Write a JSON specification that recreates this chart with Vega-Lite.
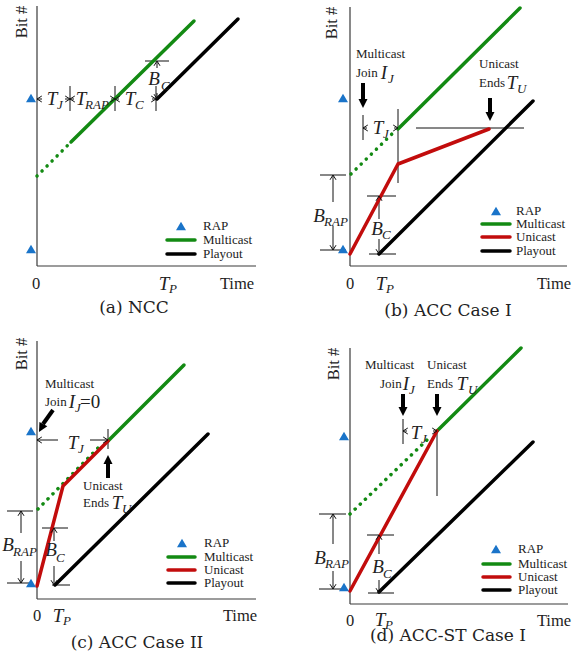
{
"$schema": "https://vega.github.io/schema/vega-lite/v6.json",
"background": "white",
"padding": {"left": 2, "top": 5, "right": 2, "bottom": 2},
"bounds": "flush",
"columns": 2,
"spacing": {"row": 75, "column": 93},
"data": {"values": [
{"p":"a","k":"axis","t":0,"b":0,"t2":0,"b2":260},
{"p":"a","k":"axis","t":0,"b":0,"t2":219,"b2":0},
{"p":"a","k":"rap","t":-6,"b":168},
{"p":"a","k":"rap","t":-6,"b":17},
{"p":"a","k":"rap","t":144,"b":40},
{"p":"a","k":"dot","g":"a0","t":0,"b":90},
{"p":"a","k":"dot","g":"a0","t":32,"b":122},
{"p":"a","k":"line","s":"Multicast","g":"a1","t":34,"b":124},
{"p":"a","k":"line","s":"Multicast","g":"a1","t":157,"b":245},
{"p":"a","k":"line","s":"Playout","g":"a2","t":120,"b":167},
{"p":"a","k":"line","s":"Playout","g":"a2","t":201,"b":247},
{"p":"a","k":"line","s":"Multicast","g":"a3","t":130,"b":26},
{"p":"a","k":"line","s":"Multicast","g":"a3","t":158,"b":26},
{"p":"a","k":"line","s":"Playout","g":"a4","t":130,"b":12},
{"p":"a","k":"line","s":"Playout","g":"a4","t":158,"b":12},
{"p":"a","k":"g","t":33,"b":155,"t2":33,"b2":180},
{"p":"a","k":"g","t":78,"b":155,"t2":78,"b2":180},
{"p":"a","k":"g","t":119,"b":155,"t2":119,"b2":180},
{"p":"a","k":"g","t":0,"b":167,"t2":5,"b2":167},
{"p":"a","k":"g","t":28,"b":167,"t2":33,"b2":167},
{"p":"a","k":"g","t":33,"b":167,"t2":37,"b2":167},
{"p":"a","k":"g","t":74,"b":167,"t2":78,"b2":167},
{"p":"a","k":"g","t":78,"b":167,"t2":82,"b2":167},
{"p":"a","k":"g","t":115,"b":167,"t2":119,"b2":167},
{"p":"a","k":"gg","t":108,"b":205,"t2":132,"b2":205},
{"p":"a","k":"g","t":120,"b":205,"t2":120,"b2":198},
{"p":"a","k":"g","t":120,"b":167,"t2":120,"b2":173},
{"p":"a","k":"chev","d":"hl","t":0,"b":167},
{"p":"a","k":"chev","d":"hl","t":33,"b":167},
{"p":"a","k":"chev","d":"hl","t":78,"b":167},
{"p":"a","k":"chev","d":"hr","t":33,"b":167},
{"p":"a","k":"chev","d":"hr","t":78,"b":167},
{"p":"a","k":"chev","d":"hr","t":119,"b":167},
{"p":"a","k":"chev","d":"hu","t":120,"b":205},
{"p":"a","k":"chev","d":"hd","t":120,"b":167},
{"p":"a","k":"math","txt":"T","t":15,"b":167},
{"p":"a","k":"math","txt":"T","t":44,"b":167},
{"p":"a","k":"math","txt":"T","t":93,"b":167},
{"p":"a","k":"math","txt":"B","t":117,"b":187},
{"p":"a","k":"math","txt":"T","t":127,"b":-18},
{"p":"a","k":"sub","txt":"J","t":20,"b":161},
{"p":"a","k":"sub","txt":"RAP","t":48,"b":161},
{"p":"a","k":"sub","txt":"C","t":98,"b":161},
{"p":"a","k":"sub","txt":"C","t":124,"b":180},
{"p":"a","k":"sub","txt":"P","t":132,"b":-23},
{"p":"a","k":"num","txt":"0","t":-1,"b":-18},
{"p":"a","k":"num","txt":"Time","t":200,"b":-18},
{"p":"a","k":"cap","txt":"(a) NCC","t":97,"b":-42},
{"p":"a","k":"ylab","txt":"Bit #","t":-15,"b":244},
{"p":"a","k":"word","txt":"RAP","t":166,"b":40},
{"p":"a","k":"word","txt":"Multicast","t":166,"b":26},
{"p":"a","k":"word","txt":"Playout","t":166,"b":12},

{"p":"b","k":"axis","t":0,"b":0,"t2":0,"b2":259},
{"p":"b","k":"axis","t":0,"b":0,"t2":217,"b2":0},
{"p":"b","k":"rap","t":-7,"b":168},
{"p":"b","k":"rap","t":-7,"b":17},
{"p":"b","k":"rap","t":146,"b":55},
{"p":"b","k":"dot","g":"b0","t":1,"b":92},
{"p":"b","k":"dot","g":"b0","t":45,"b":135},
{"p":"b","k":"line","s":"Multicast","g":"b1","t":48,"b":137},
{"p":"b","k":"line","s":"Multicast","g":"b1","t":170,"b":258},
{"p":"b","k":"line","s":"Unicast","g":"b2","t":0,"b":12},
{"p":"b","k":"line","s":"Unicast","g":"b2","t":48,"b":102},
{"p":"b","k":"line","s":"Unicast","g":"b2","t":139,"b":137},
{"p":"b","k":"line","s":"Playout","g":"b3","t":29,"b":12},
{"p":"b","k":"line","s":"Playout","g":"b3","t":183,"b":165},
{"p":"b","k":"line","s":"Multicast","g":"b4","t":132,"b":42},
{"p":"b","k":"line","s":"Multicast","g":"b4","t":160,"b":42},
{"p":"b","k":"line","s":"Unicast","g":"b5","t":132,"b":29},
{"p":"b","k":"line","s":"Unicast","g":"b5","t":160,"b":29},
{"p":"b","k":"line","s":"Playout","g":"b6","t":132,"b":15},
{"p":"b","k":"line","s":"Playout","g":"b6","t":160,"b":15},
{"p":"b","k":"g","t":48,"b":83,"t2":48,"b2":157},
{"p":"b","k":"g","t":13,"b":126,"t2":13,"b2":151},
{"p":"b","k":"g","t":66,"b":138,"t2":174,"b2":138},
{"p":"b","k":"g","t":13,"b":138,"t2":17,"b2":138},
{"p":"b","k":"g","t":44,"b":138,"t2":48,"b2":138},
{"p":"b","k":"g","t":-30,"b":91,"t2":-4,"b2":91},
{"p":"b","k":"g","t":-30,"b":16,"t2":-4,"b2":16},
{"p":"b","k":"g","t":-17,"b":91,"t2":-17,"b2":64},
{"p":"b","k":"g","t":-17,"b":16,"t2":-17,"b2":40},
{"p":"b","k":"g","t":17,"b":70,"t2":46,"b2":70},
{"p":"b","k":"gg","t":19,"b":12,"t2":46,"b2":12},
{"p":"b","k":"g","t":29,"b":70,"t2":29,"b2":47},
{"p":"b","k":"g","t":29,"b":12,"t2":29,"b2":27},
{"p":"b","k":"chev","d":"hl","t":13,"b":138},
{"p":"b","k":"chev","d":"hr","t":48,"b":138},
{"p":"b","k":"chev","d":"hu","t":-17,"b":91},
{"p":"b","k":"chev","d":"hd","t":-17,"b":16},
{"p":"b","k":"chev","d":"hu","t":29,"b":70},
{"p":"b","k":"chev","d":"hd","t":29,"b":12},
{"p":"b","k":"bs","t":13,"b":183,"t2":13,"b2":165},
{"p":"b","k":"bs","t":140,"b":168,"t2":140,"b2":152},
{"p":"b","k":"head","d":"ad","t":13,"b":158},
{"p":"b","k":"head","d":"ad","t":140,"b":145},
{"p":"b","k":"word","txt":"Multicast","t":6,"b":212},
{"p":"b","k":"word","txt":"Join","t":6,"b":193},
{"p":"b","k":"word","txt":"Unicast","t":129,"b":202},
{"p":"b","k":"word","txt":"Ends","t":129,"b":183},
{"p":"b","k":"word","txt":"RAP","t":166,"b":55},
{"p":"b","k":"word","txt":"Multicast","t":166,"b":42},
{"p":"b","k":"word","txt":"Unicast","t":166,"b":29},
{"p":"b","k":"word","txt":"Playout","t":166,"b":15},
{"p":"b","k":"math","txt":"I","t":34,"b":193},
{"p":"b","k":"math","txt":"T","t":162,"b":183},
{"p":"b","k":"math","txt":"T","t":28,"b":138},
{"p":"b","k":"math","txt":"B","t":-31,"b":50},
{"p":"b","k":"math","txt":"B","t":27,"b":37},
{"p":"b","k":"math","txt":"T","t":31,"b":-18},
{"p":"b","k":"sub","txt":"J","t":38,"b":187},
{"p":"b","k":"sub","txt":"U","t":167,"b":177},
{"p":"b","k":"sub","txt":"J","t":33,"b":132},
{"p":"b","k":"sub","txt":"RAP","t":-26,"b":44},
{"p":"b","k":"sub","txt":"C","t":32,"b":31},
{"p":"b","k":"sub","txt":"P","t":36,"b":-23},
{"p":"b","k":"num","txt":"0","t":0,"b":-18},
{"p":"b","k":"num","txt":"Time","t":204,"b":-18},
{"p":"b","k":"cap","txt":"(b) ACC Case I","t":98,"b":-45},
{"p":"b","k":"ylab","txt":"Bit #","t":-18,"b":243},

{"p":"c","k":"axis","t":0,"b":0,"t2":0,"b2":258},
{"p":"c","k":"axis","t":0,"b":0,"t2":219,"b2":0},
{"p":"c","k":"rap","t":-6,"b":168},
{"p":"c","k":"rap","t":-6,"b":16},
{"p":"c","k":"rap","t":145,"b":56},
{"p":"c","k":"dot","g":"c0","t":1,"b":90},
{"p":"c","k":"dot","g":"c0","t":63,"b":153},
{"p":"c","k":"line","s":"Multicast","g":"c1","t":71,"b":158},
{"p":"c","k":"line","s":"Multicast","g":"c1","t":147,"b":234},
{"p":"c","k":"line","s":"Unicast","g":"c2","t":0,"b":13},
{"p":"c","k":"line","s":"Unicast","g":"c2","t":26,"b":113},
{"p":"c","k":"line","s":"Unicast","g":"c2","t":71,"b":158},
{"p":"c","k":"line","s":"Playout","g":"c3","t":18,"b":14},
{"p":"c","k":"line","s":"Playout","g":"c3","t":171,"b":165},
{"p":"c","k":"line","s":"Multicast","g":"c4","t":131,"b":42},
{"p":"c","k":"line","s":"Multicast","g":"c4","t":158,"b":42},
{"p":"c","k":"line","s":"Unicast","g":"c5","t":131,"b":29},
{"p":"c","k":"line","s":"Unicast","g":"c5","t":158,"b":29},
{"p":"c","k":"line","s":"Playout","g":"c6","t":131,"b":16},
{"p":"c","k":"line","s":"Playout","g":"c6","t":158,"b":16},
{"p":"c","k":"g","t":71,"b":150,"t2":71,"b2":170},
{"p":"c","k":"g","t":0,"b":159,"t2":21,"b2":159},
{"p":"c","k":"g","t":53,"b":159,"t2":71,"b2":159},
{"p":"c","k":"chev","d":"hl","t":0,"b":159},
{"p":"c","k":"chev","d":"hr","t":71,"b":159},
{"p":"c","k":"g","t":-30,"b":88,"t2":-4,"b2":88},
{"p":"c","k":"g","t":-30,"b":16,"t2":-4,"b2":16},
{"p":"c","k":"g","t":-16,"b":88,"t2":-16,"b2":66},
{"p":"c","k":"g","t":-16,"b":16,"t2":-16,"b2":38},
{"p":"c","k":"chev","d":"hu","t":-16,"b":88},
{"p":"c","k":"chev","d":"hd","t":-16,"b":16},
{"p":"c","k":"g","t":5,"b":71,"t2":31,"b2":71},
{"p":"c","k":"g","t":15,"b":14,"t2":33,"b2":14},
{"p":"c","k":"g","t":17,"b":71,"t2":17,"b2":58},
{"p":"c","k":"g","t":17,"b":14,"t2":17,"b2":33},
{"p":"c","k":"chev","d":"hu","t":17,"b":71},
{"p":"c","k":"chev","d":"hd","t":17,"b":14},
{"p":"c","k":"bs","t":16,"b":189,"t2":6,"b2":175},
{"p":"c","k":"head","d":"adl","t":2,"b":167},
{"p":"c","k":"bs","t":71,"b":121,"t2":71,"b2":137},
{"p":"c","k":"head","d":"au","t":71,"b":144},
{"p":"c","k":"word","txt":"Multicast","t":8,"b":215},
{"p":"c","k":"word","txt":"Join","t":8,"b":197},
{"p":"c","k":"word","txt":"Unicast","t":46,"b":113},
{"p":"c","k":"word","txt":"Ends","t":46,"b":96},
{"p":"c","k":"word","txt":"RAP","t":167,"b":56},
{"p":"c","k":"word","txt":"Multicast","t":167,"b":42},
{"p":"c","k":"word","txt":"Unicast","t":167,"b":29},
{"p":"c","k":"word","txt":"Playout","t":167,"b":16},
{"p":"c","k":"math","txt":"I","t":35,"b":197},
{"p":"c","k":"math","txt":"T","t":80,"b":96},
{"p":"c","k":"math","txt":"T","t":36,"b":156},
{"p":"c","k":"math","txt":"B","t":-29,"b":54},
{"p":"c","k":"math","txt":"B","t":14,"b":49},
{"p":"c","k":"math","txt":"T","t":21,"b":-17},
{"p":"c","k":"sub","txt":"J","t":38,"b":191},
{"p":"c","k":"sub","txt":"U","t":85,"b":90},
{"p":"c","k":"sub","txt":"J","t":41,"b":150},
{"p":"c","k":"sub","txt":"RAP","t":-24,"b":47},
{"p":"c","k":"sub","txt":"C","t":19,"b":41},
{"p":"c","k":"sub","txt":"P","t":26,"b":-22},
{"p":"c","k":"eq","txt":"=0","t":43,"b":197},
{"p":"c","k":"num","txt":"0","t":0,"b":-17},
{"p":"c","k":"num","txt":"Time","t":203,"b":-17},
{"p":"c","k":"cap","txt":"(c) ACC Case II","t":100,"b":-44},
{"p":"c","k":"ylab","txt":"Bit #","t":-15,"b":245},

{"p":"d","k":"axis","t":0,"b":0,"t2":0,"b2":256},
{"p":"d","k":"axis","t":0,"b":0,"t2":218,"b2":0},
{"p":"d","k":"rap","t":-6,"b":168},
{"p":"d","k":"rap","t":-6,"b":17},
{"p":"d","k":"rap","t":146,"b":55},
{"p":"d","k":"dot","g":"d0","t":0,"b":90},
{"p":"d","k":"dot","g":"d0","t":79,"b":166},
{"p":"d","k":"line","s":"Multicast","g":"d1","t":87,"b":173},
{"p":"d","k":"line","s":"Multicast","g":"d1","t":171,"b":256},
{"p":"d","k":"line","s":"Unicast","g":"d2","t":0,"b":13},
{"p":"d","k":"line","s":"Unicast","g":"d2","t":87,"b":173},
{"p":"d","k":"line","s":"Playout","g":"d3","t":29,"b":12},
{"p":"d","k":"line","s":"Playout","g":"d3","t":183,"b":162},
{"p":"d","k":"line","s":"Multicast","g":"d4","t":133,"b":40},
{"p":"d","k":"line","s":"Multicast","g":"d4","t":160,"b":40},
{"p":"d","k":"line","s":"Unicast","g":"d5","t":133,"b":27},
{"p":"d","k":"line","s":"Unicast","g":"d5","t":160,"b":27},
{"p":"d","k":"line","s":"Playout","g":"d6","t":133,"b":14},
{"p":"d","k":"line","s":"Playout","g":"d6","t":160,"b":14},
{"p":"d","k":"g","t":87,"b":108,"t2":87,"b2":175},
{"p":"d","k":"g","t":53,"b":160,"t2":53,"b2":185},
{"p":"d","k":"g","t":53,"b":173,"t2":57,"b2":173},
{"p":"d","k":"g","t":83,"b":173,"t2":87,"b2":173},
{"p":"d","k":"chev","d":"hl","t":53,"b":173},
{"p":"d","k":"chev","d":"hr","t":87,"b":173},
{"p":"d","k":"g","t":-31,"b":90,"t2":-4,"b2":90},
{"p":"d","k":"g","t":-31,"b":15,"t2":-4,"b2":15},
{"p":"d","k":"g","t":-17,"b":90,"t2":-17,"b2":60},
{"p":"d","k":"g","t":-17,"b":15,"t2":-17,"b2":33},
{"p":"d","k":"chev","d":"hu","t":-17,"b":90},
{"p":"d","k":"chev","d":"hd","t":-17,"b":15},
{"p":"d","k":"g","t":17,"b":69,"t2":44,"b2":69},
{"p":"d","k":"g","t":18,"b":11,"t2":44,"b2":11},
{"p":"d","k":"g","t":29,"b":69,"t2":29,"b2":50},
{"p":"d","k":"g","t":29,"b":11,"t2":29,"b2":24},
{"p":"d","k":"chev","d":"hu","t":29,"b":69},
{"p":"d","k":"chev","d":"hd","t":29,"b":11},
{"p":"d","k":"bs","t":53,"b":210,"t2":53,"b2":195},
{"p":"d","k":"head","d":"ad","t":53,"b":188},
{"p":"d","k":"bs","t":87,"b":210,"t2":87,"b2":195},
{"p":"d","k":"head","d":"ad","t":87,"b":188},
{"p":"d","k":"word","txt":"Multicast","t":15,"b":239},
{"p":"d","k":"word","txt":"Unicast","t":77,"b":239},
{"p":"d","k":"word","txt":"Join","t":30,"b":220},
{"p":"d","k":"word","txt":"Ends","t":77,"b":220},
{"p":"d","k":"word","txt":"RAP","t":168,"b":55},
{"p":"d","k":"word","txt":"Multicast","t":168,"b":40},
{"p":"d","k":"word","txt":"Unicast","t":168,"b":27},
{"p":"d","k":"word","txt":"Playout","t":168,"b":14},
{"p":"d","k":"math","txt":"I","t":56,"b":220},
{"p":"d","k":"math","txt":"T","t":112,"b":220},
{"p":"d","k":"math","txt":"T","t":66,"b":171},
{"p":"d","k":"math","txt":"B","t":-30,"b":46},
{"p":"d","k":"math","txt":"B","t":28,"b":37},
{"p":"d","k":"math","txt":"T","t":30,"b":-16},
{"p":"d","k":"sub","txt":"J","t":59,"b":214},
{"p":"d","k":"sub","txt":"U","t":118,"b":214},
{"p":"d","k":"sub","txt":"J","t":71,"b":165},
{"p":"d","k":"sub","txt":"RAP","t":-25,"b":40},
{"p":"d","k":"sub","txt":"C","t":33,"b":30},
{"p":"d","k":"sub","txt":"P","t":35,"b":-21},
{"p":"d","k":"num","txt":"0","t":0,"b":-17},
{"p":"d","k":"num","txt":"Time","t":204,"b":-17},
{"p":"d","k":"cap","txt":"(d) ACC-ST Case I","t":98,"b":-32},
{"p":"d","k":"ylab","txt":"Bit #","t":-16,"b":240}
]},
"concat": [
{"width": 220, "height": 260, "transform": [{"filter": "datum.p=='a'"}],
 "encoding": {
  "x": {"field": "t", "type": "quantitative", "scale": {"domain": [0, 220], "nice": false, "zero": false}, "axis": null},
  "y": {"field": "b", "type": "quantitative", "scale": {"domain": [0, 260], "nice": false, "zero": false}, "axis": null}},
 "layer": [
  {"transform": [{"filter": "datum.k=='axis'"}], "mark": {"type": "rule", "color": "#3a3a3a", "strokeWidth": 1.2}, "encoding": {"x2": {"field": "t2"}, "y2": {"field": "b2"}}},
  {"transform": [{"filter": "datum.k=='g'"}], "mark": {"type": "rule", "color": "#111111", "strokeWidth": 1}, "encoding": {"x2": {"field": "t2"}, "y2": {"field": "b2"}}},
  {"transform": [{"filter": "datum.k=='gg'"}], "mark": {"type": "rule", "color": "#7a7a7a", "strokeWidth": 1.8}, "encoding": {"x2": {"field": "t2"}, "y2": {"field": "b2"}}},
  {"transform": [{"filter": "datum.k=='dot'"}], "mark": {"type": "line", "color": "#138a13", "strokeWidth": 3.5, "strokeCap": "round", "strokeDash": [0.1, 7]}, "encoding": {"detail": {"field": "g"}}},
  {"transform": [{"filter": "datum.k=='line'"}], "mark": {"type": "line", "strokeWidth": 3.5, "strokeCap": "round", "strokeJoin": "round"}, "encoding": {"detail": {"field": "g"}, "color": {"field": "s", "type": "nominal", "scale": {"domain": ["Multicast", "Unicast", "Playout"], "range": ["#138a13", "#c20c0c", "#000000"]}, "legend": null}}},
  {"transform": [{"filter": "datum.k=='rap'"}], "mark": {"type": "point", "shape": "triangle-up", "filled": true, "color": "#1a74c9", "size": 100, "opacity": 1}},
  {"transform": [{"filter": "datum.k=='chev'"}], "mark": {"type": "point", "filled": false, "color": "#111111", "strokeWidth": 1, "size": 36, "opacity": 1}, "encoding": {"shape": {"field": "d", "type": "nominal", "scale": {"domain": ["hl", "hr", "hu", "hd", "ad", "au", "adl"], "range": ["M1.6,-1L0,0L1.6,1", "M-1.6,-1L0,0L-1.6,1", "M-1,1.6L0,0L1,1.6", "M-1,-1.6L0,0L1,-1.6", "M-1,-2L1,-2L0,0Z", "M-1,2L1,2L0,0Z", "M0.1,-2.24L1.85,-1.27L0,0Z"]}, "legend": null}}},
  {"transform": [{"filter": "datum.k=='word'"}], "mark": {"type": "text", "font": "Liberation Serif", "fontSize": 13, "align": "left", "baseline": "middle", "color": "#222222"}, "encoding": {"text": {"field": "txt"}}},
  {"transform": [{"filter": "datum.k=='num'"}], "mark": {"type": "text", "font": "Liberation Serif", "fontSize": 16.5, "align": "center", "baseline": "middle", "color": "#222222"}, "encoding": {"text": {"field": "txt"}}},
  {"transform": [{"filter": "datum.k=='math'"}], "mark": {"type": "text", "font": "Liberation Serif", "fontSize": 19, "fontStyle": "italic", "align": "center", "baseline": "middle", "color": "#222222"}, "encoding": {"text": {"field": "txt"}}},
  {"transform": [{"filter": "datum.k=='sub'"}], "mark": {"type": "text", "font": "Liberation Serif", "fontSize": 13, "fontStyle": "italic", "align": "left", "baseline": "middle", "color": "#222222"}, "encoding": {"text": {"field": "txt"}}},
  {"transform": [{"filter": "datum.k=='cap'"}], "mark": {"type": "text", "font": "DejaVu Serif", "fontSize": 17, "align": "center", "baseline": "middle", "color": "#222222"}, "encoding": {"text": {"field": "txt"}}},
  {"transform": [{"filter": "datum.k=='ylab'"}], "mark": {"type": "text", "font": "Liberation Serif", "fontSize": 16.5, "angle": 270, "align": "center", "baseline": "middle", "color": "#222222"}, "encoding": {"text": {"field": "txt"}}}
 ]},
{"width": 220, "height": 260, "transform": [{"filter": "datum.p=='b'"}],
 "encoding": {
  "x": {"field": "t", "type": "quantitative", "scale": {"domain": [0, 220], "nice": false, "zero": false}, "axis": null},
  "y": {"field": "b", "type": "quantitative", "scale": {"domain": [0, 260], "nice": false, "zero": false}, "axis": null}},
 "layer": [
  {"transform": [{"filter": "datum.k=='axis'"}], "mark": {"type": "rule", "color": "#3a3a3a", "strokeWidth": 1.2}, "encoding": {"x2": {"field": "t2"}, "y2": {"field": "b2"}}},
  {"transform": [{"filter": "datum.k=='g'"}], "mark": {"type": "rule", "color": "#111111", "strokeWidth": 1}, "encoding": {"x2": {"field": "t2"}, "y2": {"field": "b2"}}},
  {"transform": [{"filter": "datum.k=='gg'"}], "mark": {"type": "rule", "color": "#7a7a7a", "strokeWidth": 1.8}, "encoding": {"x2": {"field": "t2"}, "y2": {"field": "b2"}}},
  {"transform": [{"filter": "datum.k=='dot'"}], "mark": {"type": "line", "color": "#138a13", "strokeWidth": 3.5, "strokeCap": "round", "strokeDash": [0.1, 7]}, "encoding": {"detail": {"field": "g"}}},
  {"transform": [{"filter": "datum.k=='line'"}], "mark": {"type": "line", "strokeWidth": 3.5, "strokeCap": "round", "strokeJoin": "round"}, "encoding": {"detail": {"field": "g"}, "color": {"field": "s", "type": "nominal", "scale": {"domain": ["Multicast", "Unicast", "Playout"], "range": ["#138a13", "#c20c0c", "#000000"]}, "legend": null}}},
  {"transform": [{"filter": "datum.k=='rap'"}], "mark": {"type": "point", "shape": "triangle-up", "filled": true, "color": "#1a74c9", "size": 100, "opacity": 1}},
  {"transform": [{"filter": "datum.k=='chev'"}], "mark": {"type": "point", "filled": false, "color": "#111111", "strokeWidth": 1, "size": 36, "opacity": 1}, "encoding": {"shape": {"field": "d", "type": "nominal", "scale": {"domain": ["hl", "hr", "hu", "hd", "ad", "au", "adl"], "range": ["M1.6,-1L0,0L1.6,1", "M-1.6,-1L0,0L-1.6,1", "M-1,1.6L0,0L1,1.6", "M-1,-1.6L0,0L1,-1.6", "M-1,-2L1,-2L0,0Z", "M-1,2L1,2L0,0Z", "M0.1,-2.24L1.85,-1.27L0,0Z"]}, "legend": null}}},
  {"transform": [{"filter": "datum.k=='bs'"}], "mark": {"type": "rule", "color": "#000000", "strokeWidth": 4}, "encoding": {"x2": {"field": "t2"}, "y2": {"field": "b2"}}},
  {"transform": [{"filter": "datum.k=='head'"}], "mark": {"type": "point", "filled": true, "color": "#000000", "size": 81, "opacity": 1}, "encoding": {"shape": {"field": "d", "type": "nominal", "scale": {"domain": ["hl", "hr", "hu", "hd", "ad", "au", "adl"], "range": ["M1.6,-1L0,0L1.6,1", "M-1.6,-1L0,0L-1.6,1", "M-1,1.6L0,0L1,1.6", "M-1,-1.6L0,0L1,-1.6", "M-1,-2L1,-2L0,0Z", "M-1,2L1,2L0,0Z", "M0.1,-2.24L1.85,-1.27L0,0Z"]}, "legend": null}}},
  {"transform": [{"filter": "datum.k=='word'"}], "mark": {"type": "text", "font": "Liberation Serif", "fontSize": 13, "align": "left", "baseline": "middle", "color": "#222222"}, "encoding": {"text": {"field": "txt"}}},
  {"transform": [{"filter": "datum.k=='num'"}], "mark": {"type": "text", "font": "Liberation Serif", "fontSize": 16.5, "align": "center", "baseline": "middle", "color": "#222222"}, "encoding": {"text": {"field": "txt"}}},
  {"transform": [{"filter": "datum.k=='math'"}], "mark": {"type": "text", "font": "Liberation Serif", "fontSize": 19, "fontStyle": "italic", "align": "center", "baseline": "middle", "color": "#222222"}, "encoding": {"text": {"field": "txt"}}},
  {"transform": [{"filter": "datum.k=='sub'"}], "mark": {"type": "text", "font": "Liberation Serif", "fontSize": 13, "fontStyle": "italic", "align": "left", "baseline": "middle", "color": "#222222"}, "encoding": {"text": {"field": "txt"}}},
  {"transform": [{"filter": "datum.k=='cap'"}], "mark": {"type": "text", "font": "DejaVu Serif", "fontSize": 17, "align": "center", "baseline": "middle", "color": "#222222"}, "encoding": {"text": {"field": "txt"}}},
  {"transform": [{"filter": "datum.k=='ylab'"}], "mark": {"type": "text", "font": "Liberation Serif", "fontSize": 16.5, "angle": 270, "align": "center", "baseline": "middle", "color": "#222222"}, "encoding": {"text": {"field": "txt"}}}
 ]},
{"width": 220, "height": 258, "transform": [{"filter": "datum.p=='c'"}],
 "encoding": {
  "x": {"field": "t", "type": "quantitative", "scale": {"domain": [0, 220], "nice": false, "zero": false}, "axis": null},
  "y": {"field": "b", "type": "quantitative", "scale": {"domain": [0, 258], "nice": false, "zero": false}, "axis": null}},
 "layer": [
  {"transform": [{"filter": "datum.k=='axis'"}], "mark": {"type": "rule", "color": "#3a3a3a", "strokeWidth": 1.2}, "encoding": {"x2": {"field": "t2"}, "y2": {"field": "b2"}}},
  {"transform": [{"filter": "datum.k=='g'"}], "mark": {"type": "rule", "color": "#111111", "strokeWidth": 1}, "encoding": {"x2": {"field": "t2"}, "y2": {"field": "b2"}}},
  {"transform": [{"filter": "datum.k=='dot'"}], "mark": {"type": "line", "color": "#138a13", "strokeWidth": 3.5, "strokeCap": "round", "strokeDash": [0.1, 7]}, "encoding": {"detail": {"field": "g"}}},
  {"transform": [{"filter": "datum.k=='line'"}], "mark": {"type": "line", "strokeWidth": 3.5, "strokeCap": "round", "strokeJoin": "round"}, "encoding": {"detail": {"field": "g"}, "color": {"field": "s", "type": "nominal", "scale": {"domain": ["Multicast", "Unicast", "Playout"], "range": ["#138a13", "#c20c0c", "#000000"]}, "legend": null}}},
  {"transform": [{"filter": "datum.k=='rap'"}], "mark": {"type": "point", "shape": "triangle-up", "filled": true, "color": "#1a74c9", "size": 100, "opacity": 1}},
  {"transform": [{"filter": "datum.k=='chev'"}], "mark": {"type": "point", "filled": false, "color": "#111111", "strokeWidth": 1, "size": 36, "opacity": 1}, "encoding": {"shape": {"field": "d", "type": "nominal", "scale": {"domain": ["hl", "hr", "hu", "hd", "ad", "au", "adl"], "range": ["M1.6,-1L0,0L1.6,1", "M-1.6,-1L0,0L-1.6,1", "M-1,1.6L0,0L1,1.6", "M-1,-1.6L0,0L1,-1.6", "M-1,-2L1,-2L0,0Z", "M-1,2L1,2L0,0Z", "M0.1,-2.24L1.85,-1.27L0,0Z"]}, "legend": null}}},
  {"transform": [{"filter": "datum.k=='bs'"}], "mark": {"type": "rule", "color": "#000000", "strokeWidth": 4}, "encoding": {"x2": {"field": "t2"}, "y2": {"field": "b2"}}},
  {"transform": [{"filter": "datum.k=='head'"}], "mark": {"type": "point", "filled": true, "color": "#000000", "size": 81, "opacity": 1}, "encoding": {"shape": {"field": "d", "type": "nominal", "scale": {"domain": ["hl", "hr", "hu", "hd", "ad", "au", "adl"], "range": ["M1.6,-1L0,0L1.6,1", "M-1.6,-1L0,0L-1.6,1", "M-1,1.6L0,0L1,1.6", "M-1,-1.6L0,0L1,-1.6", "M-1,-2L1,-2L0,0Z", "M-1,2L1,2L0,0Z", "M0.1,-2.24L1.85,-1.27L0,0Z"]}, "legend": null}}},
  {"transform": [{"filter": "datum.k=='word'"}], "mark": {"type": "text", "font": "Liberation Serif", "fontSize": 13, "align": "left", "baseline": "middle", "color": "#222222"}, "encoding": {"text": {"field": "txt"}}},
  {"transform": [{"filter": "datum.k=='num'"}], "mark": {"type": "text", "font": "Liberation Serif", "fontSize": 16.5, "align": "center", "baseline": "middle", "color": "#222222"}, "encoding": {"text": {"field": "txt"}}},
  {"transform": [{"filter": "datum.k=='eq'"}], "mark": {"type": "text", "font": "Liberation Serif", "fontSize": 19, "align": "left", "baseline": "middle", "color": "#222222"}, "encoding": {"text": {"field": "txt"}}},
  {"transform": [{"filter": "datum.k=='math'"}], "mark": {"type": "text", "font": "Liberation Serif", "fontSize": 19, "fontStyle": "italic", "align": "center", "baseline": "middle", "color": "#222222"}, "encoding": {"text": {"field": "txt"}}},
  {"transform": [{"filter": "datum.k=='sub'"}], "mark": {"type": "text", "font": "Liberation Serif", "fontSize": 13, "fontStyle": "italic", "align": "left", "baseline": "middle", "color": "#222222"}, "encoding": {"text": {"field": "txt"}}},
  {"transform": [{"filter": "datum.k=='cap'"}], "mark": {"type": "text", "font": "DejaVu Serif", "fontSize": 17, "align": "center", "baseline": "middle", "color": "#222222"}, "encoding": {"text": {"field": "txt"}}},
  {"transform": [{"filter": "datum.k=='ylab'"}], "mark": {"type": "text", "font": "Liberation Serif", "fontSize": 16.5, "angle": 270, "align": "center", "baseline": "middle", "color": "#222222"}, "encoding": {"text": {"field": "txt"}}}
 ]},
{"width": 220, "height": 263, "transform": [{"filter": "datum.p=='d'"}],
 "encoding": {
  "x": {"field": "t", "type": "quantitative", "scale": {"domain": [0, 220], "nice": false, "zero": false}, "axis": null},
  "y": {"field": "b", "type": "quantitative", "scale": {"domain": [0, 263], "nice": false, "zero": false}, "axis": null}},
 "layer": [
  {"transform": [{"filter": "datum.k=='axis'"}], "mark": {"type": "rule", "color": "#3a3a3a", "strokeWidth": 1.2}, "encoding": {"x2": {"field": "t2"}, "y2": {"field": "b2"}}},
  {"transform": [{"filter": "datum.k=='g'"}], "mark": {"type": "rule", "color": "#111111", "strokeWidth": 1}, "encoding": {"x2": {"field": "t2"}, "y2": {"field": "b2"}}},
  {"transform": [{"filter": "datum.k=='dot'"}], "mark": {"type": "line", "color": "#138a13", "strokeWidth": 3.5, "strokeCap": "round", "strokeDash": [0.1, 7]}, "encoding": {"detail": {"field": "g"}}},
  {"transform": [{"filter": "datum.k=='line'"}], "mark": {"type": "line", "strokeWidth": 3.5, "strokeCap": "round", "strokeJoin": "round"}, "encoding": {"detail": {"field": "g"}, "color": {"field": "s", "type": "nominal", "scale": {"domain": ["Multicast", "Unicast", "Playout"], "range": ["#138a13", "#c20c0c", "#000000"]}, "legend": null}}},
  {"transform": [{"filter": "datum.k=='rap'"}], "mark": {"type": "point", "shape": "triangle-up", "filled": true, "color": "#1a74c9", "size": 100, "opacity": 1}},
  {"transform": [{"filter": "datum.k=='chev'"}], "mark": {"type": "point", "filled": false, "color": "#111111", "strokeWidth": 1, "size": 36, "opacity": 1}, "encoding": {"shape": {"field": "d", "type": "nominal", "scale": {"domain": ["hl", "hr", "hu", "hd", "ad", "au", "adl"], "range": ["M1.6,-1L0,0L1.6,1", "M-1.6,-1L0,0L-1.6,1", "M-1,1.6L0,0L1,1.6", "M-1,-1.6L0,0L1,-1.6", "M-1,-2L1,-2L0,0Z", "M-1,2L1,2L0,0Z", "M0.1,-2.24L1.85,-1.27L0,0Z"]}, "legend": null}}},
  {"transform": [{"filter": "datum.k=='bs'"}], "mark": {"type": "rule", "color": "#000000", "strokeWidth": 4}, "encoding": {"x2": {"field": "t2"}, "y2": {"field": "b2"}}},
  {"transform": [{"filter": "datum.k=='head'"}], "mark": {"type": "point", "filled": true, "color": "#000000", "size": 81, "opacity": 1}, "encoding": {"shape": {"field": "d", "type": "nominal", "scale": {"domain": ["hl", "hr", "hu", "hd", "ad", "au", "adl"], "range": ["M1.6,-1L0,0L1.6,1", "M-1.6,-1L0,0L-1.6,1", "M-1,1.6L0,0L1,1.6", "M-1,-1.6L0,0L1,-1.6", "M-1,-2L1,-2L0,0Z", "M-1,2L1,2L0,0Z", "M0.1,-2.24L1.85,-1.27L0,0Z"]}, "legend": null}}},
  {"transform": [{"filter": "datum.k=='word'"}], "mark": {"type": "text", "font": "Liberation Serif", "fontSize": 13, "align": "left", "baseline": "middle", "color": "#222222"}, "encoding": {"text": {"field": "txt"}}},
  {"transform": [{"filter": "datum.k=='num'"}], "mark": {"type": "text", "font": "Liberation Serif", "fontSize": 16.5, "align": "center", "baseline": "middle", "color": "#222222"}, "encoding": {"text": {"field": "txt"}}},
  {"transform": [{"filter": "datum.k=='math'"}], "mark": {"type": "text", "font": "Liberation Serif", "fontSize": 19, "fontStyle": "italic", "align": "center", "baseline": "middle", "color": "#222222"}, "encoding": {"text": {"field": "txt"}}},
  {"transform": [{"filter": "datum.k=='sub'"}], "mark": {"type": "text", "font": "Liberation Serif", "fontSize": 13, "fontStyle": "italic", "align": "left", "baseline": "middle", "color": "#222222"}, "encoding": {"text": {"field": "txt"}}},
  {"transform": [{"filter": "datum.k=='cap'"}], "mark": {"type": "text", "font": "DejaVu Serif", "fontSize": 17, "align": "center", "baseline": "middle", "color": "#222222"}, "encoding": {"text": {"field": "txt"}}},
  {"transform": [{"filter": "datum.k=='ylab'"}], "mark": {"type": "text", "font": "Liberation Serif", "fontSize": 16.5, "angle": 270, "align": "center", "baseline": "middle", "color": "#222222"}, "encoding": {"text": {"field": "txt"}}}
 ]}
],
"config": {"view": {"stroke": null}}
}
